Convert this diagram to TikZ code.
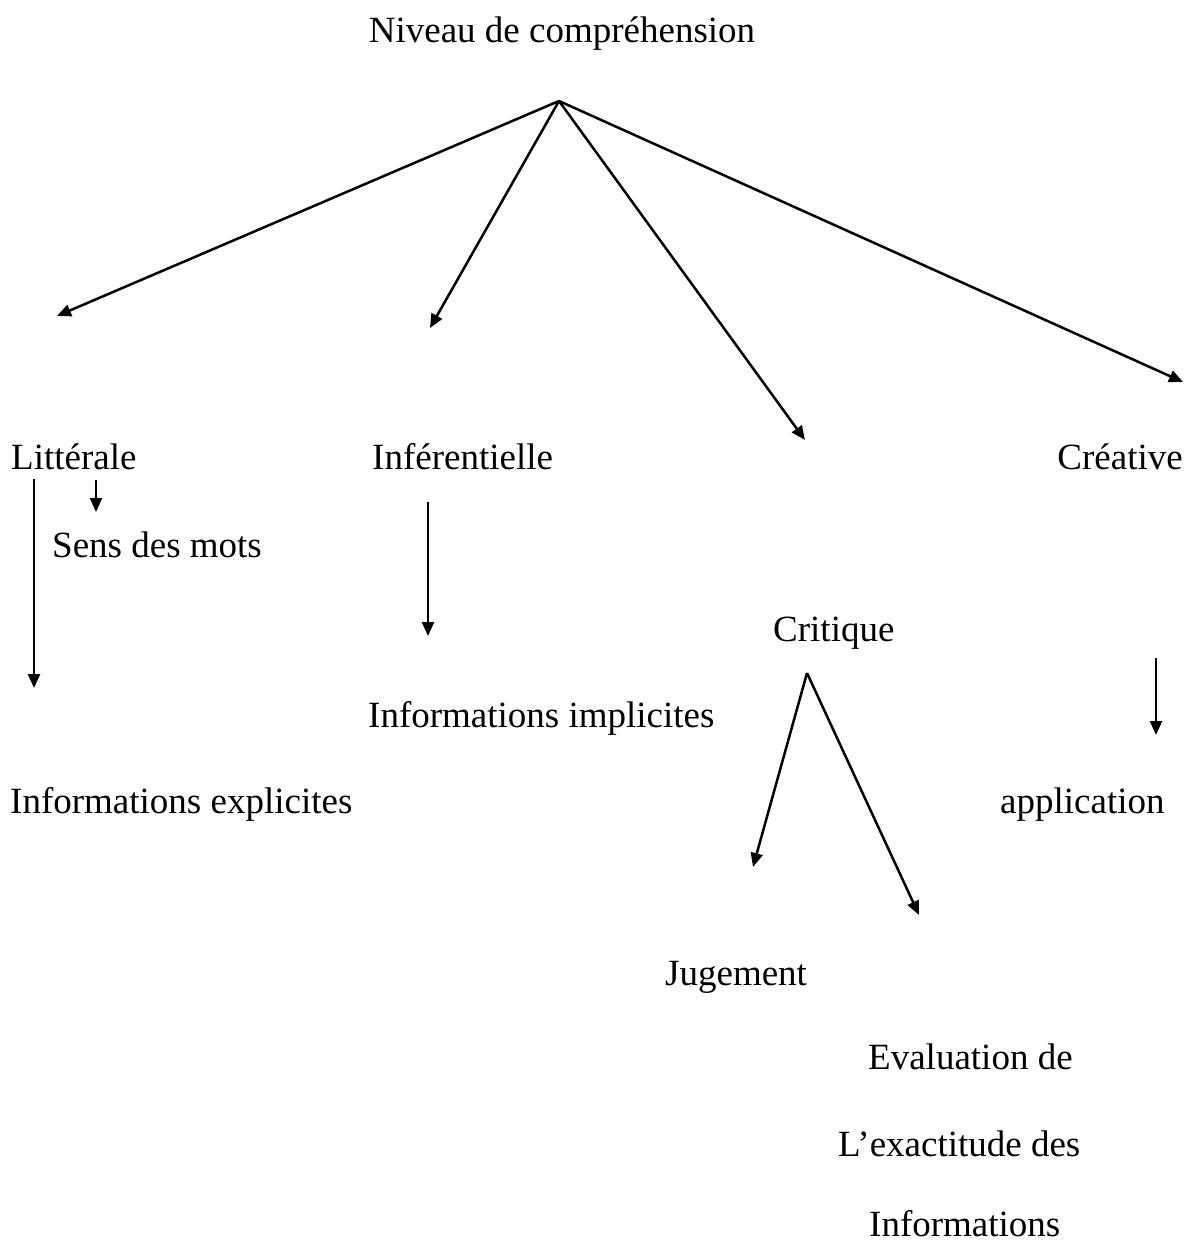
\documentclass[tikz,border=0pt]{standalone}
\usepackage{fontspec}
\setmainfont{Liberation Serif}
\usetikzlibrary{arrows.meta}
\begin{document}
\begin{tikzpicture}[x=1pt,y=-1pt,
  lbl/.style={inner sep=0pt,font=\fontsize{37}{44}\selectfont},
  arr/.style={line width=2.5pt,-{Triangle[length=14pt,width=12pt]}}]
\useasboundingbox[fill=white] (0,0) rectangle (1185,1245);
% labels
\node[lbl,anchor=base] (title) at (562,42) {Niveau de compréhension};
\node[lbl,anchor=base west] (lit) at (11,469) {Littérale};
\node[lbl,anchor=base west] (inf) at (372,469) {Inférentielle};
\node[lbl,anchor=base east] (cre) at (1183,469) {Créative};
\node[lbl,anchor=base west] (sens) at (52,557) {Sens des mots};
\node[lbl,anchor=base west] (crit) at (773,641) {Critique};
\node[lbl,anchor=base west] (impl) at (368,727) {Informations implicites};
\node[lbl,anchor=base west] (expl) at (10,813) {Informations explicites};
\node[lbl,anchor=base west] (appl) at (1000,813) {application};
\node[lbl,anchor=base west] (jug) at (665,985) {Jugement};
\node[lbl,anchor=base west] (eval1) at (868,1069) {Evaluation de};
\node[lbl,anchor=base west] (eval2) at (838,1156) {L’exactitude des};
\node[lbl,anchor=base west] (eval3) at (869,1236) {Informations};
% coordinates
\coordinate (root) at (559,101);
\coordinate (tLit) at (57,316);
\coordinate (tInf) at (430,328);
\coordinate (tCrit) at (805,440);
\coordinate (tCre) at (1183,382);
\coordinate (litA) at (34,479);
\coordinate (litB) at (34,688);
\coordinate (sensA) at (96,480);
\coordinate (sensB) at (96,512);
\coordinate (infA) at (428,502);
\coordinate (infB) at (428,636);
\coordinate (critA) at (807,673);
\coordinate (jugB) at (753,867);
\coordinate (evalB) at (919,915);
\coordinate (creA) at (1156,658);
\coordinate (creB) at (1156,735);
% arrows
\draw[arr] (root) -- (tLit);
\draw[arr] (root) -- (tInf);
\draw[arr] (root) -- (tCrit);
\draw[arr] (root) -- (tCre);
\draw[arr] (litA) -- (litB);
\draw[arr] (sensA) -- (sensB);
\draw[arr] (infA) -- (infB);
\draw[arr] (critA) -- (jugB);
\draw[arr] (critA) -- (evalB);
\draw[arr] (creA) -- (creB);
\end{tikzpicture}
\end{document}
